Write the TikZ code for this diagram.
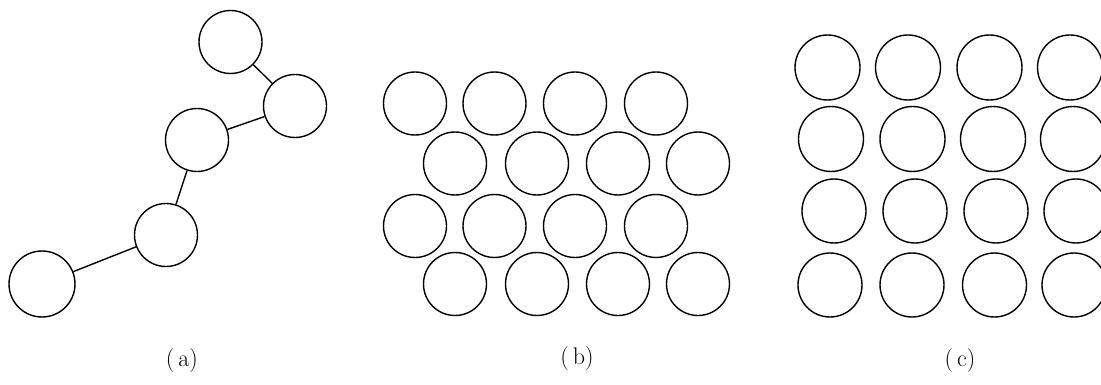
\documentclass[tikz,border=0pt]{standalone}
\usepackage{fontspec}
\begin{document}
\begin{tikzpicture}[x=1pt,y=-1pt,
  ball/.style={circle,draw=black,line width=1.4pt,minimum size=63pt,inner sep=0pt},
  link/.style={line width=1.4pt},
  lab/.style={font=\fontsize{24}{28}\selectfont,inner sep=0pt}]
\useasboundingbox (0,0) rectangle (1101,385);
% (a) chain
\node[ball] (a1) at (230.5,42) {};
\node[ball] (a2) at (295,106) {};
\node[ball] (a3) at (197,140) {};
\node[ball] (a4) at (166,235) {};
\node[ball,minimum size=66pt] (a5) at (42,284) {};
\draw[link] (a1) -- (a2);
\draw[link] (a2) -- (a3);
\draw[link] (a3) -- (a4);
\draw[link] (a4) -- (a5);
\node[lab] (la) at (182,361) {(\,a)};
% (b) staggered
\foreach \x [count=\i] in {415,494.5,575,656}{
  \node[ball] (b1\i) at (\x,103.5) {};
  \node[ball] (b3\i) at (\x,226) {};
}
\foreach \x [count=\i] in {455,537,618,698}{
  \node[ball] (b2\i) at (\x,163.5) {};
  \node[ball] (b4\i) at (\x,284) {};
}
\node[lab] (lb) at (577,359) {(\,b)};
% (c) square grid
\foreach \x [count=\i] in {827.5,908,989.5,1070}{
  \node[ball,minimum size=65pt] (c1\i) at (\x,67.5) {};
}
\foreach \x [count=\i] in {831,912.5,993,1073}{
  \node[ball,minimum size=65pt] (c2\i) at (\x,139) {};
}
\foreach \x [count=\i] in {834,915,996,1076}{
  \node[ball,minimum size=64pt] (c3\i) at (\x,211) {};
}
\foreach \x [count=\i] in {830,912,994.5,1074}{
  \node[ball,minimum size=64pt] (c4\i) at (\x,285) {};
}
\node[lab] (lc) at (960,361) {(\,c)};
\end{tikzpicture}
\end{document}
